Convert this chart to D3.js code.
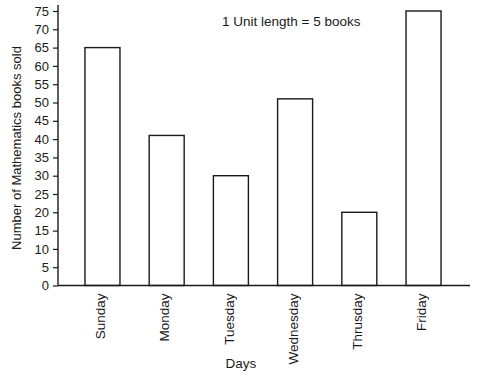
<!DOCTYPE html>
<html>
<head>
<meta charset="utf-8">
<script src="https://cdn.jsdelivr.net/npm/d3@7"></script>
<style>
  body { margin: 0; background: #fff; }
  svg text { font-family: "Liberation Sans", Arial, Helvetica, sans-serif; fill: #1a1a1a; }
</style>
</head>
<body>
<div id="plot"></div>
<script>
// chart values
const days = ["Sunday", "Monday", "Tuesday", "Wednesday", "Thrusday", "Friday"];
const booksSold = [65, 41, 30, 51, 20, 75];
const yTicks = [0, 5, 10, 15, 20, 25, 30, 35, 40, 45, 50, 55, 60, 65, 70, 75];

const svg = d3.select("div#plot").append("svg")
    .attr("width", 483)
    .attr("height", 376);

const x = d3.scaleBand()
    .domain(days)
    .range([58, 468])
    .paddingInner(0.455)
    .paddingOuter(0.42);

const y = d3.scaleLinear()
    .domain([0, 75])
    .range([285.5, 11]);

const ink = "#1a1a1a";

// bars
svg.selectAll("rect.bar")
    .data(days.map((d, i) => ({day: d, value: booksSold[i]})))
    .enter().append("rect")
    .attr("class", "bar")
    .attr("x", d => x(d.day))
    .attr("y", d => y(d.value))
    .attr("width", x.bandwidth())
    .attr("height", d => y(0) - y(d.value))
    .attr("fill", "#fff")
    .attr("stroke", ink)
    .attr("stroke-width", 1.4);

// y axis
const yAxis = svg.append("g")
    .attr("transform", "translate(58,0)")
    .call(d3.axisLeft(y).tickValues(yTicks).tickSize(5).tickPadding(4));
yAxis.select(".domain").remove();
yAxis.selectAll("line").attr("stroke", ink).attr("stroke-width", 1.2);
yAxis.selectAll("text").attr("font-size", "13px").style("font-family", "Liberation Sans, Arial, sans-serif");

svg.append("line")
    .attr("x1", 58).attr("x2", 58)
    .attr("y1", 5).attr("y2", y(0))
    .attr("stroke", ink).attr("stroke-width", 1.4);

// x axis baseline
svg.append("line")
    .attr("x1", 58).attr("x2", 470)
    .attr("y1", y(0)).attr("y2", y(0))
    .attr("stroke", ink).attr("stroke-width", 1.4);

const xAxis = svg.append("g")
    .attr("transform", `translate(0,${y(0)})`)
    .call(d3.axisBottom(x).tickSize(0).tickPadding(0));
xAxis.select(".domain").remove();
xAxis.selectAll("text")
    .attr("font-size", "13.5px")
    .style("font-family", "Liberation Sans, Arial, sans-serif")
    .attr("text-anchor", "end")
    .attr("transform", "rotate(-90)")
    .attr("x", -8)
    .attr("y", -2)
    .attr("dy", "0.35em");

// axis titles
svg.append("text")
    .attr("transform", "translate(21,148) rotate(-90)")
    .attr("text-anchor", "middle")
    .attr("font-size", "13px")
    .text("Number of Mathematics books sold");

svg.append("text")
    .attr("x", 241)
    .attr("y", 368)
    .attr("text-anchor", "middle")
    .attr("font-size", "13.5px")
    .text("Days");

// scale note
svg.append("text")
    .attr("x", 222)
    .attr("y", 26)
    .attr("font-size", "13.5px")
    .text("1 Unit length = 5 books");
</script>
</body>
</html>
